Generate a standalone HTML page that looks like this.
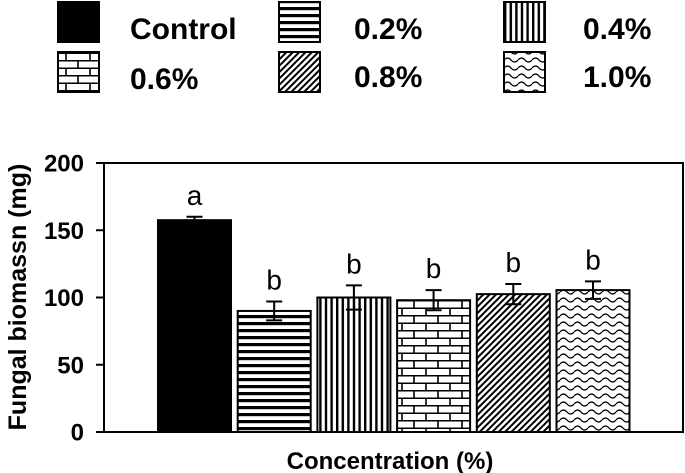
<!DOCTYPE html>
<html><head><meta charset="utf-8"><style>
body{margin:0;background:#fff;}
svg{display:block;font-family:"Liberation Sans",Arial,sans-serif;}
</style></head><body>
<svg id="chart" width="685" height="473" viewBox="0 0 685 473">
<defs>
<pattern id="p-h" width="8" height="7" patternUnits="userSpaceOnUse"><rect width="8" height="7" fill="#fff"/><rect y="0" width="8" height="3.2" fill="#000"/></pattern>
<pattern id="p-v" width="5.6" height="8" patternUnits="userSpaceOnUse"><rect width="5.6" height="8" fill="#fff"/><rect x="0" width="2.4" height="8" fill="#000"/></pattern>
<pattern id="p-b" width="24" height="15" patternUnits="userSpaceOnUse"><rect width="24" height="15" fill="#fff"/><path d="M0 0.75H24M0 8.25H24M6 0.75V8.25M18 8.25V15" stroke="#000" stroke-width="1.6" fill="none"/></pattern>
<pattern id="p-d" width="4.5" height="4.5" patternUnits="userSpaceOnUse" patternTransform="rotate(45)"><rect width="4.5" height="4.5" fill="#fff"/><rect width="2" height="4.5" fill="#000"/></pattern>
<pattern id="p-w" width="14" height="8" patternUnits="userSpaceOnUse"><rect width="14" height="8" fill="#fff"/><path d="M0 4Q3.5 0 7 4T14 4" stroke="#000" stroke-width="1.3" fill="none"/></pattern>
</defs>
<g id="legend"></g>
<g id="plot"></g>
</svg>
<script>
const categories = ["Control","0.2%","0.4%","0.6%","0.8%","1.0%"];
const values = [157.5, 90, 100, 98, 102.5, 105.5];
const errors = [2.5, 7, 9, 7.5, 7.5, 6.5];
const letters = ["a","b","b","b","b","b"];
const yTicks = [0, 50, 100, 150, 200];
const fills = ["#000","url(#p-h)","url(#p-v)","url(#p-b)","url(#p-d)","url(#p-w)"];
const NS="http://www.w3.org/2000/svg";
const X0=104, X1=683, Y0=432, Y1=163;
function yScale(v){return Y0-(v/200)*(Y0-Y1);}
function xCenter(i){return 194.5+i*79.7;}
const BW=73;
function mk(tag,attrs,parent,text){const e=document.createElementNS(NS,tag);for(const k in attrs)e.setAttribute(k,attrs[k]);if(text!==undefined)e.textContent=text;parent.appendChild(e);return e;}
const plot=document.getElementById('plot');
let f=mk('rect',{x:X0,y:Y1,width:X1-X0,height:Y0-Y1,fill:'none',stroke:'#000','stroke-width':2},plot);


yTicks.forEach(t=>{
  const y=yScale(t);
  let l=mk('line',{x1:X0-8,x2:X0,y1:y,y2:y,stroke:'#000','stroke-width':2},plot);
  
  
  let tx=mk('text',{x:X0-20,y:y+8.5,'text-anchor':'end','font-size':24,'font-weight':'bold'},plot,String(t));
  
  
});
values.forEach((v,i)=>{
  const cx=xCenter(i), y=yScale(v);
  let r=mk('rect',{x:cx-BW/2,y:y,width:BW,height:Y0-y,fill:fills[i],stroke:'#000','stroke-width':2},plot);
  
  
  const yt=yScale(v+errors[i]), yb=yScale(v-errors[i]);
  let e=mk('path',{d:`M${cx} ${yt}V${yb}M${cx-8} ${yt}H${cx+8}M${cx-8} ${yb}H${cx+8}`,stroke:'#000','stroke-width':2,fill:'none'},plot);
  
  
  let lt=mk('text',{x:cx,y:yt-12,'text-anchor':'middle','font-size':28},plot,letters[i]);
  
  
});
let xt=mk('text',{x:390,y:469,'text-anchor':'middle','font-size':24,'font-weight':'bold'},plot,'Concentration (%)');


let yt=mk('text',{x:0,y:0,transform:'translate(26,297) rotate(-90)','text-anchor':'middle','font-size':25,'font-weight':'bold'},plot,'Fungal biomassn (mg)');


const lg=document.getElementById('legend');
const boxX=[58,279,504], textX=[130,354,583];
const boxY=[2,52], textY=[39,87];
categories.forEach((c,i)=>{
  const col=i%3, row=Math.floor(i/3);
  let b=mk('rect',{x:boxX[col],y:boxY[row],width:41,height:40,fill:fills[i],stroke:'#000','stroke-width':2},lg);
  
  
  let t=mk('text',{x:textX[col],y:textY[row]+(i===3?2:0),'font-size':30,'font-weight':'bold'},lg,c);
  
  
});
</script>
</body></html>
